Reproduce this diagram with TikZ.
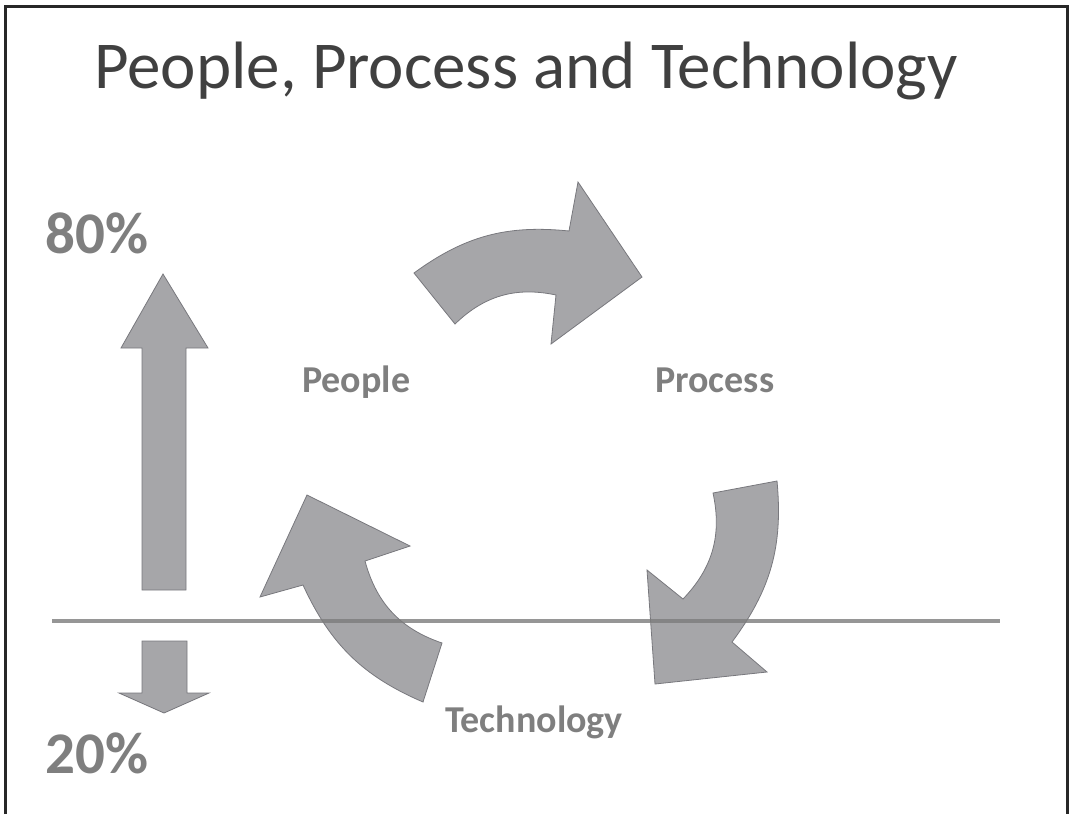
\documentclass[tikz,border=0pt]{standalone}
\usepackage{fontspec}
\setmainfont{Carlito}
\definecolor{arrowfill}{RGB}{166,166,169}
\definecolor{arrowline}{RGB}{120,120,125}
\definecolor{labelgray}{RGB}{127,127,127}
\definecolor{titlegray}{RGB}{64,64,64}
\definecolor{framegray}{RGB}{40,40,40}
\definecolor{splitgray}{RGB}{124,124,124}

\begin{document}
\begin{tikzpicture}[x=1pt,y=-1pt]
    \tikzset{bigarrow/.style={fill=arrowfill, draw=arrowline, line width=0.8pt, line join=miter},
        cyclelabel/.style={text=labelgray, font=\bfseries\fontsize{38}{38}\selectfont, anchor=base west, inner sep=0pt},
        pctlabel/.style={cyclelabel, font=\bfseries\fontsize{59}{59}\selectfont}}
    \useasboundingbox (0,0) rectangle (1073,814);
    \draw[line width=3pt, draw=framegray] (5,814) -- (5,6) -- (1067,6) -- (1067,814);
    \node (title) [anchor=base, inner sep=0pt, text=titlegray, font=\fontsize{67}{67}\selectfont] at (526,88) {People, Process and Technology};
    \node (high) [pctlabel] at (45,253) {80\%};
    \node (low) [pctlabel] at (45,773) {20\%};
    \node (people) [cyclelabel] at (302,392) {People};
    \node (process) [cyclelabel] at (655,392) {Process};
    \node (tech) [cyclelabel] at (445,732) {Technology};
    \draw[bigarrow] (142,590) -- (142,348) -- (121,348) -- (163,274) -- (208,348) -- (186,348) -- (186,590) -- cycle;
    \draw[bigarrow] (142,641) -- (187,641) -- (187,693) -- (209,693) -- (164,713) -- (119,693) -- (142,693) -- cycle;
    \draw[bigarrow] (414,273) to[bend left=21] (569,231) -- (578,182) -- (642,277) -- (551,344) -- (556,295) to[bend right=28] (455,324) -- cycle;
    \draw[bigarrow] (423,702) to[bend left=21] (303,585) -- (260,597) -- (307,495) -- (410,546) -- (365,561) to[bend right=28] (442,643) -- cycle;
    \draw[bigarrow] (777,481) to[bend left=21] (732,642) -- (767,672) -- (655,684) -- (647,570) -- (683,599) to[bend right=28] (713,493) -- cycle;
    \draw[line width=4pt, draw=splitgray, opacity=0.8] (52,621) -- (1000,621);
\end{tikzpicture}
\end{document}
